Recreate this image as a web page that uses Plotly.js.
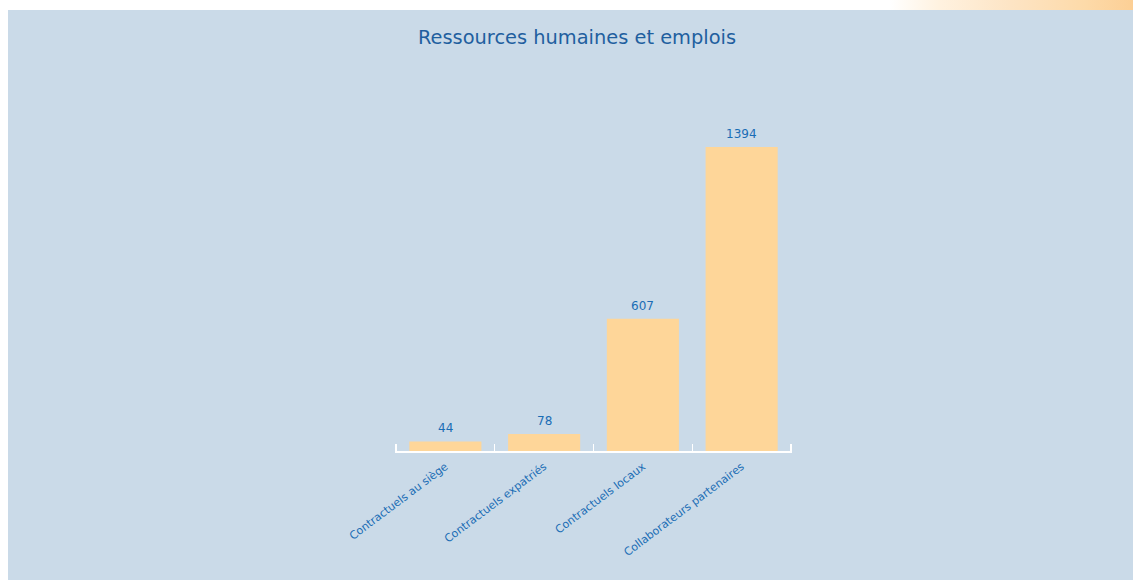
<!DOCTYPE html>
<html><head><meta charset="utf-8">
<script src="https://cdn.plot.ly/plotly-3.0.1.min.js"></script>
<style>
html,body{margin:0;padding:0;background:#fff;width:1133px;height:580px;overflow:hidden}
#strip{position:absolute;left:890px;top:0;width:243px;height:10px;background:linear-gradient(to right,#ffffff 0%,#fff2e0 20%,#fde4c4 50%,#fddaa9 80%,#fccf95 100%)}
#chart{position:absolute;left:8px;top:10px;width:1125px;height:570px}
</style></head>
<body>
<div id="strip"></div>
<div id="chart"></div>
<script>
const categories = ["Contractuels au siège","Contractuels expatriés","Contractuels locaux","Collaborateurs partenaires"];
const values = [44, 78, 607, 1394];
const chartTitle = "Ressources humaines et emplois";

const font = "Tahoma, 'DejaVu Sans', Verdana, sans-serif";
const boundaries = [];
for (let i = 0; i <= categories.length; i++) boundaries.push(i - 0.5);
const xr = [-0.51, categories.length - 0.49];

Plotly.newPlot('chart', [{
  type: 'bar',
  x: categories,
  y: values,
  marker: {color: '#fed699'},
  cliponaxis: false,
  hoverinfo: 'none'
}, {
  type: 'scatter', mode: 'none', xaxis: 'x2', yaxis: 'y',
  x: [boundaries[0], boundaries[boundaries.length - 1]], y: [0, 0],
  hoverinfo: 'none', showlegend: false
}], {
  width: 1125, height: 570,
  paper_bgcolor: '#cadae8',
  plot_bgcolor: 'rgba(0,0,0,0)',
  margin: {l: 387, r: 341, t: 90, b: 129},
  bargap: 0.27,
  title: {text: chartTitle, x: 0.5058, xref: 'container', y: 0.953, yref: 'container', yanchor: 'middle',
          font: {family: font, size: 19.4, color: '#1f5f9f'}},
  annotations: categories.map((c, i) => ({
    x: c, y: values[i], xref: 'x', yref: 'y', text: String(values[i]),
    showarrow: false, yanchor: 'bottom', yshift: 4,
    font: {family: font, size: 12, color: '#1a6db5'}
  })),
  xaxis: {
    range: xr,
    showline: true, linecolor: '#ffffff', linewidth: 2,
    ticks: '',
    tickangle: -37, ticklabelstandoff: 3, tickfont: {family: font, size: 11, color: '#1a6db5'},
    showgrid: false, zeroline: false, fixedrange: true
  },
  xaxis2: {
    overlaying: 'x', side: 'top', anchor: 'free', position: 0, type: 'linear', range: xr,
    tickmode: 'array', tickvals: boundaries, showticklabels: false,
    ticks: 'outside', ticklen: 7, tickcolor: '#ffffff', tickwidth: 1.5,
    showline: false, showgrid: false, zeroline: false
  },
  yaxis: {range: [0, 1610], visible: false, showgrid: false, zeroline: false},
  showlegend: false
}, {displayModeBar: false, staticPlot: true});
</script>
</body></html>
